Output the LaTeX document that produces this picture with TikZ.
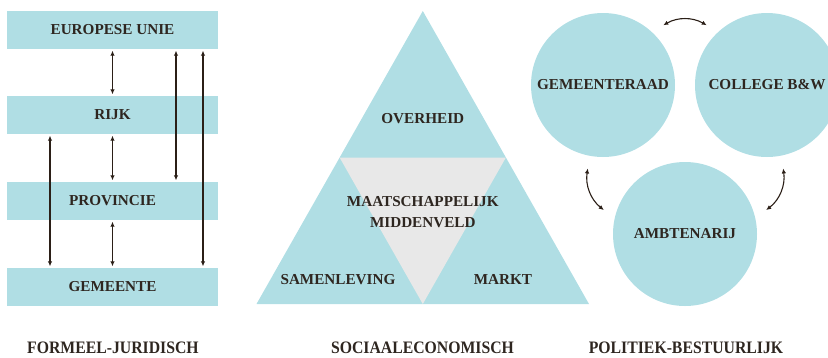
\documentclass[tikz,border=0pt]{standalone}
\usepackage{fontspec}
\setmainfont{Liberation Serif}
\newfontfamily\titelfont[FakeStretch=0.9]{Liberation Serif Bold}
\usepackage{xcolor}
\usepackage{tikz}
\usetikzlibrary{arrows.meta}
\definecolor{lichtblauw}{HTML}{B0DEE4}
\definecolor{lichtgrijs}{HTML}{E8E8E8}
\definecolor{donker}{HTML}{2E2620}
\definecolor{pijlkleur}{HTML}{2B1F17}
\tikzset{
  laag/.style={fill=lichtblauw,minimum width=211pt,minimum height=38pt,inner sep=0pt,
    text=donker,font=\fontsize{15.2}{17}\selectfont\bfseries},
  orgaan/.style={circle,fill=lichtblauw,minimum size=144pt,inner sep=0pt,
    text=donker,font=\fontsize{15.2}{17}\selectfont\bfseries},
  tekst/.style={text=donker,font=\fontsize{15.2}{17}\selectfont\bfseries,align=center},
  titel/.style={text=donker,font=\fontsize{17.5}{19}\titelfont},
  pijl/.style={draw=pijlkleur,line width=1.1pt,shorten <=1.5pt,shorten >=1.5pt,
    {Latex[length=5pt,width=4.5pt]}-{Latex[length=5pt,width=4.5pt]}}
}
\begin{document}
\begin{tikzpicture}[x=1pt,y=-1pt]
\useasboundingbox (0,0) rectangle (828,357);
%Formeel-juridisch
\node[laag] (eu) at (112.5,30) {EUROPESE UNIE};
\node[laag] (rijk) at (112.5,115) {RIJK};
\node[laag] (provincie) at (112.5,201) {PROVINCIE};
\node[laag] (gemeente) at (112.5,287) {GEMEENTE};
\draw[pijl] (eu.south) -- (rijk.north);
\draw[pijl] (rijk.south) -- (provincie.north);
\draw[pijl] (provincie.south) -- (gemeente.north);
\draw[pijl] (rijk.south -| 50,0) -- (gemeente.north -| 50,0);
\draw[pijl] (eu.south -| 176,0) -- (provincie.north -| 176,0);
\draw[pijl] (eu.south -| 203,0) -- (gemeente.north -| 203,0);
%Sociaaleconomisch
\fill[lichtblauw] (256.5,304) -- (422.8,11) -- (589,304) -- cycle;
\fill[lichtgrijs] (339.6,157.5) -- (505.9,157.5) -- (422.8,304) -- cycle;
\node[tekst] (overheid) at (422.8,118.5) {OVERHEID};
\node[tekst] (middenveld) at (422.8,212.5) {MAATSCHAPPELIJK\\[4pt]MIDDENVELD};
\node[tekst] (samenleving) at (338,279.5) {SAMENLEVING};
\node[tekst] (markt) at (503,279.5) {MARKT};
%Politiek-bestuurlijk
\node[orgaan] (raad) at (603,85) {GEMEENTERAAD};
\node[orgaan] (college) at (767,85) {COLLEGE B\&W};
\node[orgaan] (ambtenarij) at (685,234) {AMBTENARIJ};
\coordinate (r1) at (662,26);
\coordinate (c1) at (708,26);
\coordinate (r2) at (588,167);
\coordinate (a1) at (605,211);
\coordinate (c2) at (783,167);
\coordinate (a2) at (765,211);
\draw[pijl] (r1) to[bend left=30] (c1);
\draw[pijl] (r2) to[bend right=30] (a1);
\draw[pijl] (c2) to[bend left=30] (a2);
%Titels
\node[titel] (t1) at (113,347.5) {FORMEEL-JURIDISCH};
\node[titel] (t2) at (422.5,347.5) {SOCIAALECONOMISCH};
\node[titel] (t3) at (686,347.5) {POLITIEK-BESTUURLIJK};
\end{tikzpicture}
\end{document}
